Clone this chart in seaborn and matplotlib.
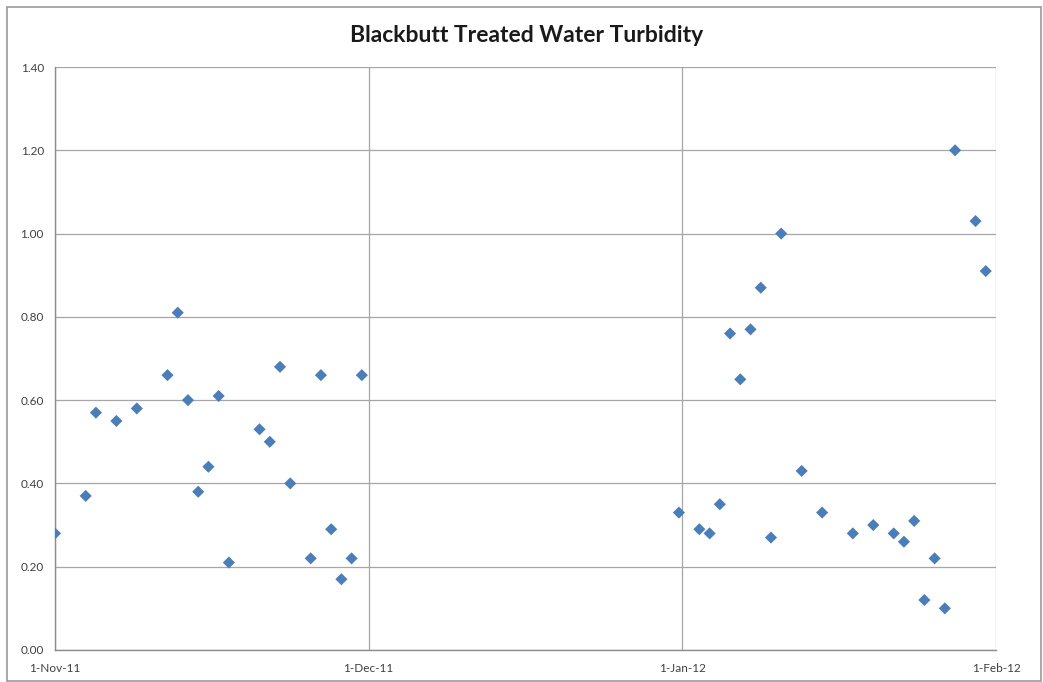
import matplotlib
matplotlib.use("Agg")
import matplotlib.pyplot as plt
import matplotlib.dates as mdates
import seaborn as sns
import pandas as pd
import numpy as np

dates = ["2011-11-01", "2011-11-04", "2011-11-05", "2011-11-07", "2011-11-09",
         "2011-11-12", "2011-11-13", "2011-11-14", "2011-11-15", "2011-11-16",
         "2011-11-17", "2011-11-18", "2011-11-21", "2011-11-22", "2011-11-23",
         "2011-11-24", "2011-11-26", "2011-11-27", "2011-11-28", "2011-11-29",
         "2011-11-30", "2011-12-01",
         "2012-01-01", "2012-01-03", "2012-01-04", "2012-01-05", "2012-01-06",
         "2012-01-07", "2012-01-08", "2012-01-09", "2012-01-10", "2012-01-11",
         "2012-01-13", "2012-01-15", "2012-01-18", "2012-01-20", "2012-01-22",
         "2012-01-23", "2012-01-24", "2012-01-25", "2012-01-26", "2012-01-27",
         "2012-01-28", "2012-01-30", "2012-01-31"]
turbidity = [0.28, 0.37, 0.57, 0.55, 0.58,
             0.66, 0.81, 0.60, 0.38, 0.44,
             0.61, 0.21, 0.53, 0.50, 0.68,
             0.40, 0.22, 0.66, 0.29, 0.17,
             0.22, 0.66,
             0.33, 0.29, 0.28, 0.35, 0.76,
             0.65, 0.77, 0.87, 0.27, 1.00,
             0.43, 0.33, 0.28, 0.30, 0.28,
             0.26, 0.31, 0.12, 0.22, 0.10,
             1.20, 1.03, 0.91]
x_tick_labels = ["1-Nov-11", "1-Dec-11", "1-Jan-12", "1-Feb-12"]
y_ticks = [0.0, 0.2, 0.4, 0.6, 0.8, 1.0, 1.2, 1.4]
title = "Blackbutt Treated Water Turbidity"

df = pd.DataFrame({"date": pd.to_datetime(dates), "turbidity": turbidity})

sns.set_style("white")
plt.rcParams["font.family"] = ["Lato", "DejaVu Sans"]

fig = plt.figure(figsize=(10.43, 6.82), dpi=100)
ax = fig.add_axes([55/1043, 32/682, (996-55)/1043, (650-67)/682])

sns.scatterplot(data=df, x="date", y="turbidity", marker="D", s=38,
                color="#4a7ebb", edgecolor="none", ax=ax, zorder=3)

xmin = mdates.date2num(pd.Timestamp("2011-11-01"))
xmax = mdates.date2num(pd.Timestamp("2012-02-01"))
ax.set_xlim(xmin, xmax)
ax.set_ylim(0, 1.4)
xt = np.linspace(xmin, xmax, 4)
ax.set_xticks(xt)
ax.set_xticklabels(x_tick_labels)
ax.set_yticks(y_ticks)
ax.set_yticklabels([f"{v:.2f}" for v in y_ticks])

gc = "#a6a6a6"
ax.grid(True, color=gc, linewidth=0.9)
ax.set_axisbelow(True)
for side in ["top", "right"]:
    ax.spines[side].set_visible(False)
for side in ["left", "bottom"]:
    ax.spines[side].set_color("#8c8c8c")
    ax.spines[side].set_linewidth(1.0)
ax.tick_params(axis="both", which="both", direction="out", length=5,
               color="#8c8c8c", width=0.9, labelsize=8.5, labelcolor="#404040")
ax.tick_params(axis="y", pad=3)
ax.tick_params(axis="x", pad=4)
ax.set_xlabel("")
ax.set_ylabel("")

fig.text(527/1043, 1 - 35/682, title, ha="center", va="center",
         fontsize=16.5, fontweight="bold", color="#1a1a1a")

# outer chart border
border = plt.Rectangle((7/1043, 1/682), (1041-7)/1043, (675-1)/682,
                       transform=fig.transFigure, fill=False,
                       edgecolor="#9a9a9a", linewidth=1.2)
fig.patches.append(border)

fig.savefig("out.png", dpi=100)
